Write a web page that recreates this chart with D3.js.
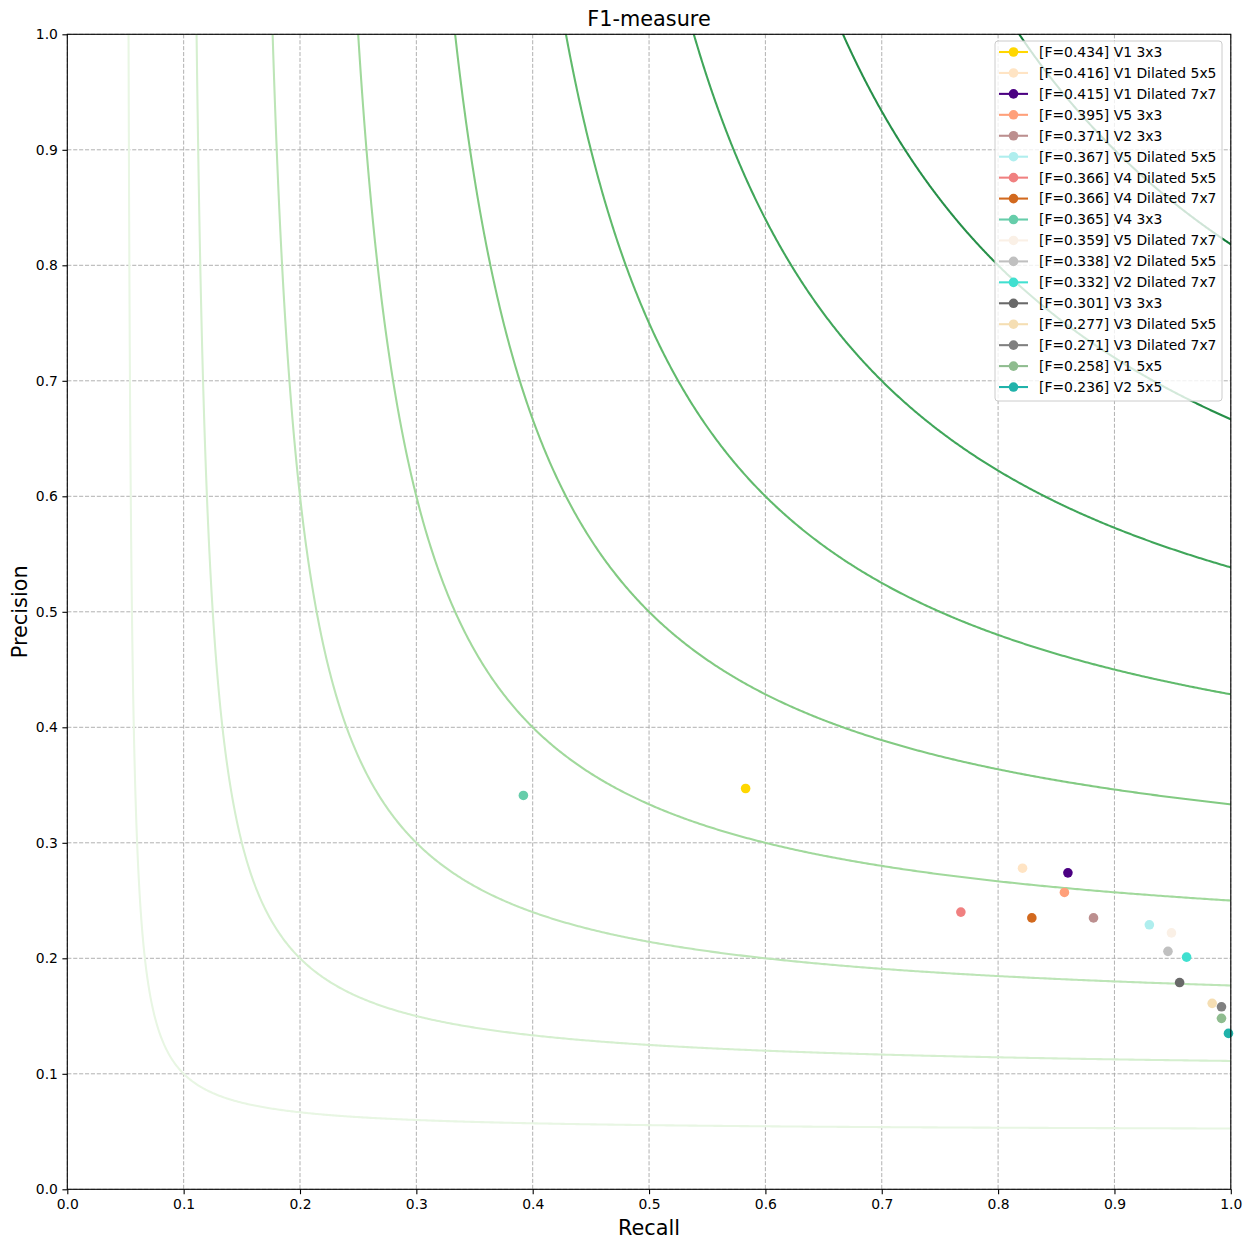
<!DOCTYPE html>
<html>
<head>
<meta charset="utf-8">
<script src="https://cdn.jsdelivr.net/npm/d3@7/dist/d3.min.js"></script>
<style>
  body { margin: 0; background: #fff; }
  svg { font-family: "DejaVu Sans", sans-serif; }
</style>
</head>
<body>
<div id="chart"></div>
<script>
// iso F1 levels drawn as background curves
const fLevels = [0.1, 0.2, 0.3, 0.4, 0.5, 0.6, 0.7, 0.8, 0.9];

// models, in legend order
const names = ["V1 3x3", "V1 Dilated 5x5", "V1 Dilated 7x7", "V5 3x3", "V2 3x3",
    "V5 Dilated 5x5", "V4 Dilated 5x5", "V4 Dilated 7x7", "V4 3x3", "V5 Dilated 7x7",
    "V2 Dilated 5x5", "V2 Dilated 7x7", "V3 3x3", "V3 Dilated 5x5", "V3 Dilated 7x7",
    "V1 5x5", "V2 5x5"];
const fScores = ["0.434", "0.416", "0.415", "0.395", "0.371", "0.367", "0.366", "0.366",
    "0.365", "0.359", "0.338", "0.332", "0.301", "0.277", "0.271", "0.258", "0.236"];
const recall = [0.583, 0.821, 0.860, 0.857, 0.882, 0.930, 0.768, 0.829, 0.392, 0.949,
    0.946, 0.962, 0.956, 0.984, 0.992, 0.992, 0.998];
const precision = [0.347, 0.278, 0.274, 0.257, 0.235, 0.229, 0.240, 0.235, 0.341, 0.222,
    0.206, 0.201, 0.179, 0.161, 0.158, 0.148, 0.135];
const colors = ["#ffd700", "#ffe4c4", "#4b0082", "#ffa07a", "#bc8f8f", "#afeeee", "#f08080",
    "#d2691e", "#66cdaa", "#faf0e6", "#c0c0c0", "#40e0d0", "#696969", "#f5deb3", "#808080",
    "#8fbc8f", "#20b2aa"];

const ticks = [0, 0.1, 0.2, 0.3, 0.4, 0.5, 0.6, 0.7, 0.8, 0.9, 1.0];

const W = 1250, H = 1248;
const margin = {top: 34.3, right: 19.2, bottom: 58.7, left: 67.3};
const width = W - margin.left - margin.right;
const height = H - margin.top - margin.bottom;
const dotR = 4.8;

const svg = d3.select("#chart").append("svg")
    .attr("width", W)
    .attr("height", H);

const g = svg.append("g")
    .attr("transform", "translate(" + margin.left + "," + margin.top + ")");

const xScale = d3.scaleLinear().domain([0, 1]).range([0, width]);
const yScale = d3.scaleLinear().domain([0, 1]).range([height, 0]);

g.append("clipPath").attr("id", "plotClip")
    .append("rect").attr("width", width).attr("height", height);

// grid
const gridG = g.append("g").attr("class", "grid");
gridG.selectAll(".vgrid").data(ticks).join("line")
    .attr("x1", d => xScale(d)).attr("x2", d => xScale(d))
    .attr("y1", 0).attr("y2", height)
    .attr("stroke", "#a8a8a8").attr("stroke-width", 0.9)
    .attr("stroke-dasharray", "4.1,1.8");
gridG.selectAll(".hgrid").data(ticks).join("line")
    .attr("y1", d => yScale(d)).attr("y2", d => yScale(d))
    .attr("x1", 0).attr("x2", width)
    .attr("stroke", "#a8a8a8").attr("stroke-width", 0.9)
    .attr("stroke-dasharray", "4.1,1.8");

// iso-F curves: P = F*R / (2R - F)
const curveColor = i => d3.interpolateGreens(0.1 + i * 0.72 / (fLevels.length - 1));
const line = d3.line()
    .x(d => xScale(d[0]))
    .y(d => yScale(d[1]));

const curvesG = g.append("g").attr("clip-path", "url(#plotClip)");
fLevels.forEach((f, i) => {
    const rStart = f / (2 - f) * 0.97;
    const pts = [];
    const n = 600;
    for (let k = 0; k <= n; k++) {
        const r = rStart + (1.01 - rStart) * Math.pow(k / n, 1.6);
        if (2 * r - f <= 0) continue;
        const p = f * r / (2 * r - f);
        if (p > 1.2 || p < 0) continue;
        pts.push([r, p]);
    }
    curvesG.append("path")
        .datum(pts)
        .attr("d", line)
        .attr("fill", "none")
        .attr("stroke", curveColor(i))
        .attr("stroke-width", 2.08);
});

// points
const pointData = names.map((n, i) => ({name: n, f: fScores[i], r: recall[i], p: precision[i], c: colors[i]}));
g.append("g")
    .selectAll(".dot").data(pointData).join("circle")
    .attr("class", "dot")
    .attr("cx", d => xScale(d.r))
    .attr("cy", d => yScale(d.p))
    .attr("r", dotR)
    .attr("fill", d => d.c);

// axes
const xAxis = d3.axisBottom(xScale).tickValues(ticks).tickFormat(d3.format(".1f")).tickSizeOuter(0).tickSize(4.9).tickPadding(4.5);
const yAxis = d3.axisLeft(yScale).tickValues(ticks).tickFormat(d3.format(".1f")).tickSizeOuter(0).tickSize(4.9).tickPadding(4.5);

const xg = g.append("g").attr("transform", "translate(0," + height + ")").call(xAxis);
const yg = g.append("g").call(yAxis);
[xg, yg].forEach(a => {
    a.select(".domain").remove();
    a.selectAll(".tick line").attr("stroke", "#000").attr("stroke-width", 1.1);
    a.selectAll(".tick text").attr("fill", "#000").style("font-size", "13.9px")
        .style("font-family", "DejaVu Sans");
});

// spines
g.append("rect")
    .attr("width", width).attr("height", height)
    .attr("fill", "none").attr("stroke", "#000").attr("stroke-width", 1.1);

// title and labels
svg.append("text")
    .attr("x", margin.left + width / 2).attr("y", 26)
    .attr("text-anchor", "middle")
    .style("font-size", "20.8px")
    .text("F1-measure");
svg.append("text")
    .attr("x", margin.left + width / 2).attr("y", 1235)
    .attr("text-anchor", "middle")
    .style("font-size", "20.8px")
    .text("Recall");
svg.append("text")
    .attr("transform", "translate(27," + (margin.top + height / 2) + ") rotate(-90)")
    .attr("text-anchor", "middle")
    .style("font-size", "20.8px")
    .text("Precision");

// legend
const legendG = svg.append("g").attr("transform", "translate(995,41)");
legendG.append("rect")
    .attr("width", 227).attr("height", 360)
    .attr("rx", 3)
    .attr("fill", "#fff").attr("fill-opacity", 0.8)
    .attr("stroke", "#cccccc").attr("stroke-width", 1);
const rowH = 20.94;
const rows = legendG.selectAll(".leg").data(pointData).join("g")
    .attr("class", "leg")
    .attr("transform", (d, i) => "translate(0," + (11 + i * rowH) + ")");
rows.append("line")
    .attr("x1", 4).attr("x2", 33)
    .attr("stroke", d => d.c).attr("stroke-width", 2.08);
rows.append("circle")
    .attr("cx", 18.5).attr("r", dotR)
    .attr("fill", d => d.c);
rows.append("text")
    .attr("x", 44).attr("dy", "0.35em")
    .style("font-size", "13.9px")
    .text(d => "[F=" + d.f + "] " + d.name);
</script>
</body>
</html>
